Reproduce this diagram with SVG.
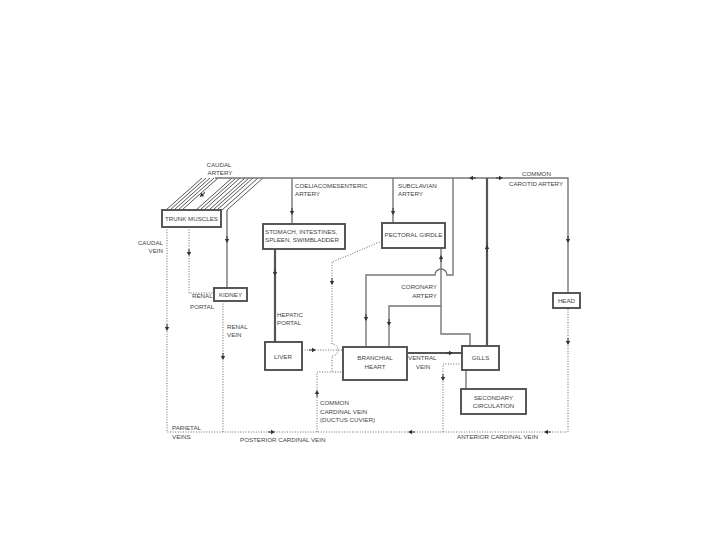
<svg xmlns="http://www.w3.org/2000/svg" xmlns:xlink="http://www.w3.org/1999/xlink" width="720" height="540" viewBox="0 0 720 540">
<style>
text{font-family:"Liberation Sans",Arial,sans-serif;font-size:6.2px;fill:#444}
.m{text-anchor:middle}
.r{text-anchor:end}
.box{fill:#fff;stroke:#505050;stroke-width:1.9}
.s{fill:none;stroke:#777;stroke-width:1.4}
.t{fill:none;stroke:#555;stroke-width:2.2}
.d{fill:none;stroke:#666;stroke-width:1;stroke-dasharray:1 1.6}
.h{fill:none;stroke:#555;stroke-width:1}
</style>
<defs>
<g id="ar"><path d="M-4,0H1" stroke="#333" stroke-width="1"/><path d="M3,0L-1,-2.2L-1,2.2Z" fill="#333"/></g>
</defs>
<rect width="720" height="540" fill="#fff"/>
<g id="connectors">
<g id="caudal-artery">
<path class="h" d="M202,178L166,210M206,178L170,210M210,178L174,210M214,178L178,210M218,178L182,210M232,178L196,210M236,178L200,210M240,178L204,210M245,178L209,210M249,178L213,210M253,178L217,210M258,178L222,210M263,178L227,210"/>
</g>
<path class="s" d="M215,178H568V293"/>
<path class="s" d="M227,210V288"/>
<path class="s" d="M292,178V224"/>
<path class="t" d="M275,249V342"/>
<path class="s" d="M393,178V223"/>
<path class="s" d="M441,248V334H470V346"/>
<path class="s" d="M366,347V275H435A6,6 0 0 1 447,275H453V178"/>
<path class="s" d="M389,347V306H441"/>
<path class="t" d="M487,346V178"/>
<path class="t" d="M407,353H462"/>
<path class="s" d="M466,370V389"/>
<path class="d" d="M167,227V432H568V308"/>
<path class="d" d="M189,227V293H214"/>
<path class="d" d="M223,301V432"/>
<path class="d" d="M382,241L332,262V344A6,6 0 0 1 332,356V372"/>
<path class="d" d="M317,432V372H343"/>
<path class="d" d="M302,350H343"/>
<path class="d" d="M462,364H443V432"/>
<use xlink:href="#ar" transform="translate(202,195) rotate(138)"/>
<use xlink:href="#ar" transform="translate(227,240) rotate(90)"/>
<use xlink:href="#ar" transform="translate(189,253) rotate(90)"/>
<use xlink:href="#ar" transform="translate(167,328) rotate(90)"/>
<use xlink:href="#ar" transform="translate(223,357) rotate(90)"/>
<use xlink:href="#ar" transform="translate(292,212) rotate(90)"/>
<use xlink:href="#ar" transform="translate(275,273) rotate(90)"/>
<use xlink:href="#ar" transform="translate(393,212) rotate(90)"/>
<use xlink:href="#ar" transform="translate(332,282) rotate(90)"/>
<use xlink:href="#ar" transform="translate(313,350)"/>
<use xlink:href="#ar" transform="translate(317,393) rotate(-90)"/>
<use xlink:href="#ar" transform="translate(366,318) rotate(90)"/>
<use xlink:href="#ar" transform="translate(389,323) rotate(90)"/>
<use xlink:href="#ar" transform="translate(441,258) rotate(-90)"/>
<use xlink:href="#ar" transform="translate(487,248) rotate(-90)"/>
<use xlink:href="#ar" transform="translate(472,178) rotate(180)"/>
<use xlink:href="#ar" transform="translate(500,178)"/>
<use xlink:href="#ar" transform="translate(568,240) rotate(90)"/>
<use xlink:href="#ar" transform="translate(568,342) rotate(90)"/>
<use xlink:href="#ar" transform="translate(450,353)"/>
<use xlink:href="#ar" transform="translate(443,378) rotate(90)"/>
<use xlink:href="#ar" transform="translate(272,432)"/>
<use xlink:href="#ar" transform="translate(411,432) rotate(180)"/>
<use xlink:href="#ar" transform="translate(547,432) rotate(180)"/>
</g>
<g id="labels">
<text class="m" x="219" y="167">CAUDAL</text>
<text class="m" x="220" y="175">ARTERY</text>
<text x="295" y="188">COELIACOMESENTERIC</text>
<text x="295" y="196">ARTERY</text>
<text x="398" y="188">SUBCLAVIAN</text>
<text x="398" y="196">ARTERY</text>
<text x="522" y="176">COMMON</text>
<text x="509" y="186">CAROTID ARTERY</text>
<text class="r" x="163" y="245">CAUDAL</text>
<text class="r" x="163" y="253">VEIN</text>
<text x="192" y="298">RENAL</text>
<text x="190" y="309">PORTAL</text>
<text x="227" y="329">RENAL</text>
<text x="227" y="337">VEIN</text>
<text x="277" y="317">HEPATIC</text>
<text x="277" y="325">PORTAL</text>
<text class="r" x="437" y="289">CORONARY</text>
<text class="r" x="437" y="298">ARTERY</text>
<text x="408" y="360">VENTRAL</text>
<text class="m" x="423" y="369">VEIN</text>
<text x="320" y="405">COMMON</text>
<text x="320" y="414">CARDINAL VEIN</text>
<text x="320" y="422">(DUCTUS CUVIER)</text>
<text x="172" y="430">PARIETAL</text>
<text x="172" y="439">VEINS</text>
<text x="240" y="442">POSTERIOR CARDINAL VEIN</text>
<text x="457" y="439">ANTERIOR CARDINAL VEIN</text>
</g>
<g id="trunk-muscles"><rect class="box" x="162" y="210" width="59" height="17"/><text class="m" x="191.5" y="221">TRUNK MUSCLES</text></g>
<g id="stomach"><rect class="box" x="263" y="224" width="82" height="25"/><text x="265" y="234">STOMACH, INTESTINES,</text><text x="265" y="242">SPLEEN, SWIMBLADDER</text></g>
<g id="pectoral-girdle"><rect class="box" x="382" y="223" width="63" height="25"/><text class="m" x="413.5" y="237">PECTORAL GIRDLE</text></g>
<g id="kidney"><rect class="box" x="214" y="288" width="33" height="13"/><text class="m" x="230.5" y="297">KIDNEY</text></g>
<g id="liver"><rect class="box" x="265" y="342" width="37" height="28"/><text class="m" x="283" y="359">LIVER</text></g>
<g id="branchial-heart"><rect class="box" x="343" y="347" width="64" height="33"/><text class="m" x="375" y="360">BRANCHIAL</text><text class="m" x="375" y="369">HEART</text></g>
<g id="gills"><rect class="box" x="462" y="346" width="37" height="24"/><text class="m" x="480.5" y="360">GILLS</text></g>
<g id="head"><rect class="box" x="553" y="293" width="27" height="15"/><text class="m" x="566.5" y="303">HEAD</text></g>
<g id="secondary-circulation"><rect class="box" x="461" y="389" width="65" height="25"/><text class="m" x="493.5" y="400">SECONDARY</text><text class="m" x="493.5" y="408">CIRCULATION</text></g>
</svg>
